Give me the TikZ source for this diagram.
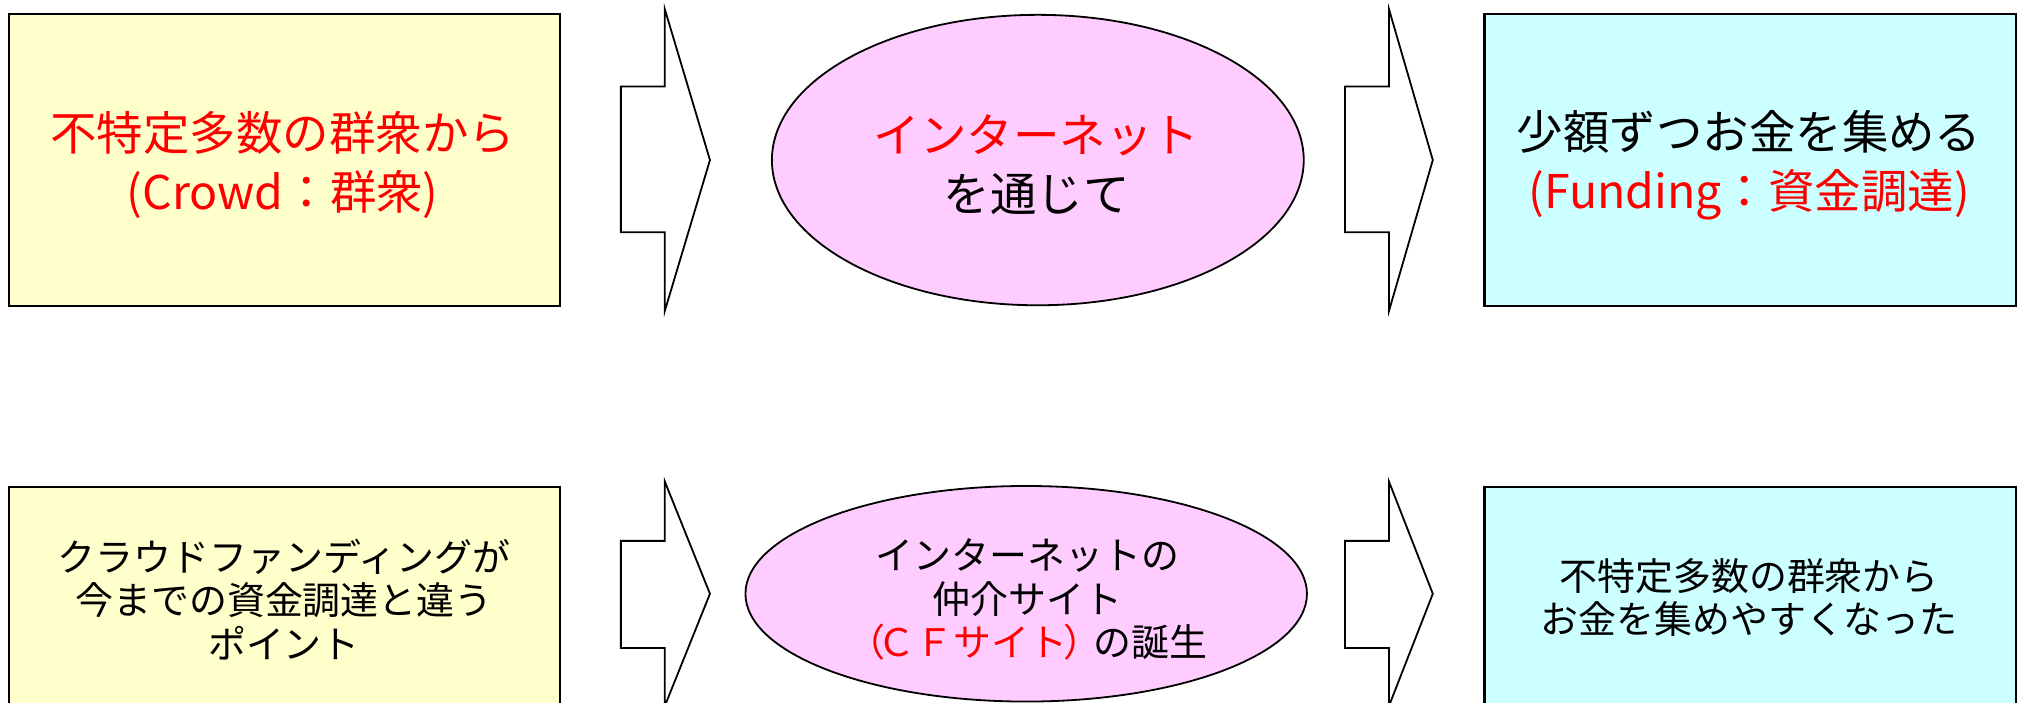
\documentclass[tikz,border=0pt]{standalone}
\usepackage{fontspec}
\setmainfont{Noto Sans CJK JP}
\usetikzlibrary{shapes.geometric}
\definecolor{boxyellow}{HTML}{FFFFCC}
\definecolor{boxpink}{HTML}{FFCCFF}
\definecolor{boxcyan}{HTML}{CCFFFF}
\definecolor{txtred}{HTML}{FF0000}
\newcommand\mystrut{\rule[-0.12em]{0pt}{1em}}
\begin{document}
\begin{tikzpicture}[x=0.5pt,y=-0.5pt,
  box/.style={draw=black, line width=0.85pt, inner sep=0pt, outer sep=0pt, anchor=north west},
  oval/.style={ellipse, draw=black, line width=0.7pt, fill=boxpink, inner sep=0pt, outer sep=0pt},
  barrow/.style={draw=black, line width=0.7pt, fill=white, line join=miter},
  bigtxt/.style={align=center, inner sep=0pt, font=\fontsize{18pt}{22.7pt}\selectfont},
  smalltxt/.style={align=center, inner sep=0pt, font=\fontsize{14.7pt}{16.9pt}\selectfont}]
\useasboundingbox (0,0) rectangle (1568,544);
\clip (0,0) rectangle (1568,544);
% top row
\node[box, fill=boxyellow, minimum width=427*0.5pt, minimum height=226*0.5pt] (b1) at (7,11) {};
\node[box, fill=boxcyan, minimum width=412*0.5pt, minimum height=226*0.5pt] (b3) at (1150,11) {};
\node[oval, minimum width=412*0.5pt, minimum height=225*0.5pt] (e1) at (804,124) {};
\draw[barrow] (481,67) -- (515,67) -- (515,7) -- (550,124) -- (515,241) -- (515,180) -- (481,180) -- cycle;
\draw[barrow] (1042,67) -- (1076,67) -- (1076,7) -- (1110,124) -- (1076,241) -- (1076,180) -- (1042,180) -- cycle;
\node[bigtxt, text=txtred] (t1) at (219,127.3) {\mystrut 不特定多数の群衆から\\\mystrut(Crowd：群衆)};
\node[bigtxt] (t2) at (803,127.3) {\mystrut\textcolor{txtred}{インターネット}\\\mystrut を通じて};
\node[bigtxt] (t3) at (1355,127.3) {\mystrut 少額ずつお金を集める\\\mystrut\textcolor{txtred}{(Funding：資金調達)}};
% bottom row
\node[box, fill=boxyellow, minimum width=427*0.5pt, minimum height=250*0.5pt] (b4) at (7,377) {};
\node[box, fill=boxcyan, minimum width=412*0.5pt, minimum height=250*0.5pt] (b6) at (1150,377) {};
\node[oval, minimum width=435*0.5pt, minimum height=167*0.5pt] (e2) at (795,460) {};
\draw[barrow] (481,419) -- (515,419) -- (515,373) -- (550,460) -- (515,547) -- (515,502) -- (481,502) -- cycle;
\draw[barrow] (1042,419) -- (1076,419) -- (1076,373) -- (1110,460) -- (1076,547) -- (1076,502) -- (1042,502) -- cycle;
\node[smalltxt] (t4) at (220,465) {\mystrut クラウドファンディングが\\\mystrut 今までの資金調達と違う\\\mystrut ポイント};
\node[smalltxt] (t5) at (796,464) {\mystrut インターネットの\\\mystrut 仲介サイト\\\mystrut\textcolor{txtred}{（\kern-0.2emＣＦサイト\kern-0.1em）}\kern-0.2emの誕生};
\node[smalltxt] (t6) at (1355,463) {\mystrut 不特定多数の群衆から\\\mystrut お金を集めやすくなった};
\end{tikzpicture}
\end{document}
